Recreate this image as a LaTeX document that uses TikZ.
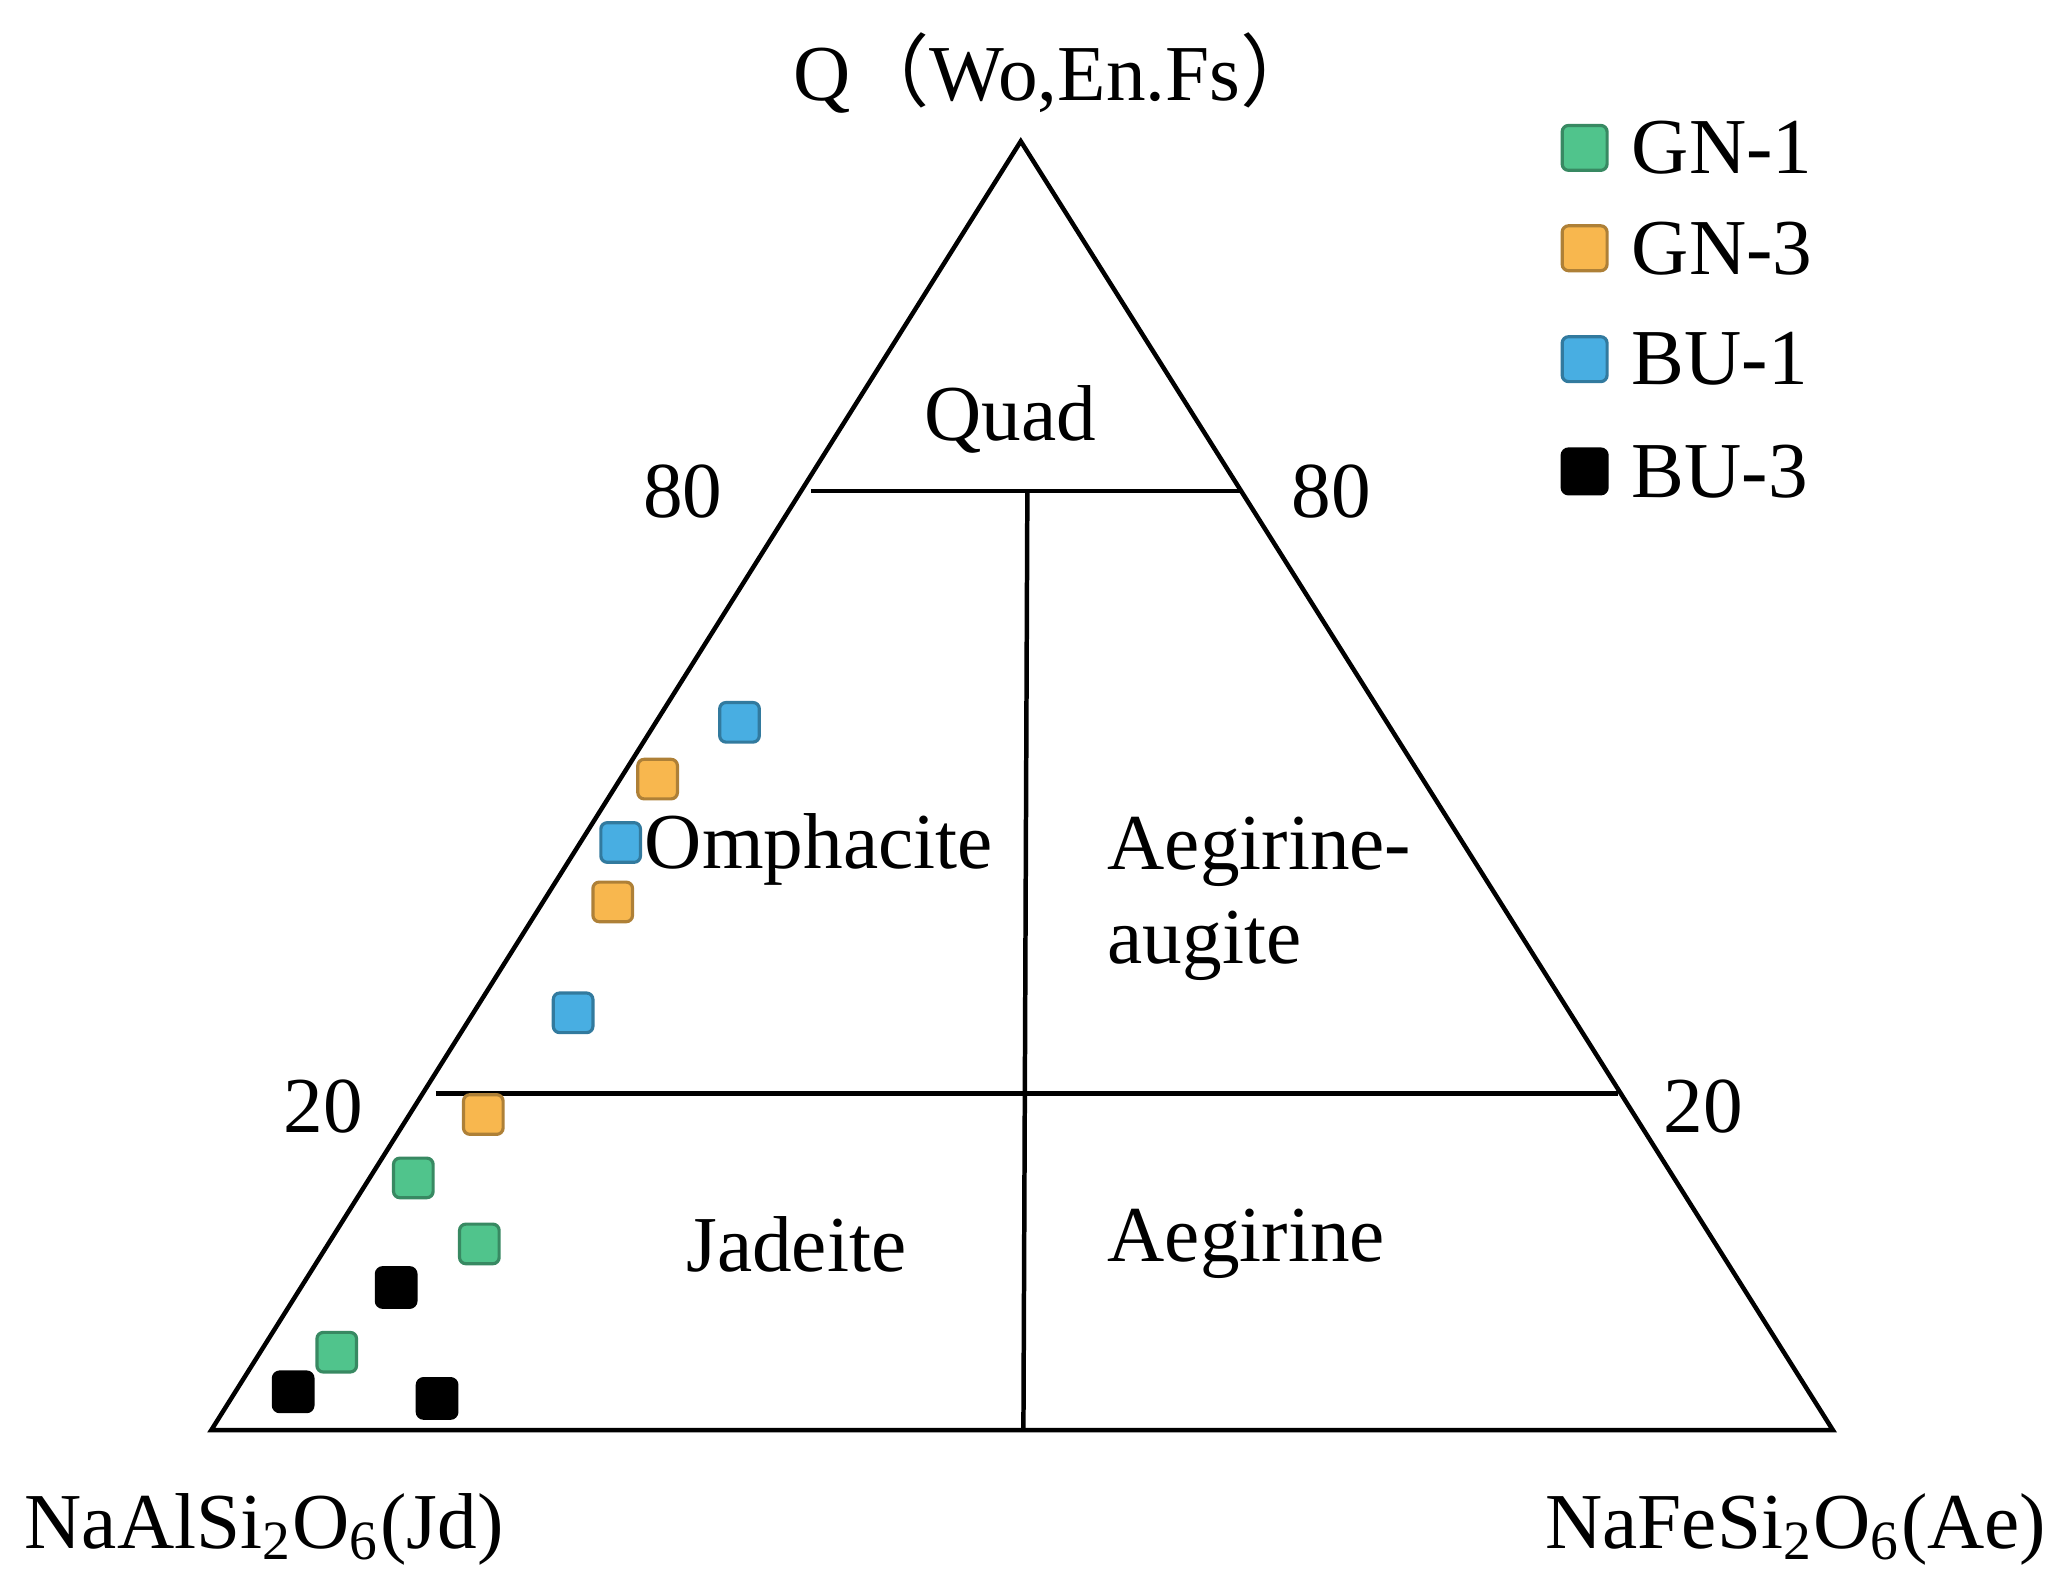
\documentclass[tikz,border=0pt]{standalone}
\usepackage{fontspec}
\setmainfont{Liberation Serif}
\newfontfamily\cjk{Noto Sans CJK SC}
\begin{document}
\begin{tikzpicture}[x=0.25pt,y=-0.25pt,
  lbl/.style={font=\fontsize{15}{18}\selectfont,inner sep=0pt},
  pt/.style={draw=#1!70!black,fill=#1,rounded corners=1.2pt,minimum size=7.5pt,inner sep=0pt,line width=0.6pt},
  ln/.style={line width=0.85pt}]
\definecolor{cg}{HTML}{50C48C}\definecolor{co}{HTML}{F8B74E}
\definecolor{cb}{HTML}{48AEE2}\definecolor{ck}{HTML}{000000}
\useasboundingbox (0,0) rectangle (1560,1207);
\coordinate (A) at (773,107); \coordinate (L) at (160,1083); \coordinate (R) at (1388,1083);
\draw[ln,line join=miter] (A)--(L)--(R)--cycle;
\coordinate (a1) at (614,372); \coordinate (a2) at (940,372);
\coordinate (v1) at (778,372); \coordinate (v2) at (775,1083);
\coordinate (b1) at (330,828); \coordinate (b2) at (1225,828);
\draw[ln] (a1)--(a2); \draw[ln] (v1)--(v2); \draw[ln] (b1)--(b2);
\node[lbl] (q) at (800,55) {Q{\cjk （}Wo,En.Fs{\cjk ）}};
\node[lbl] (quad) at (765,318) {Quad};
\node[lbl] (l80) at (517,372) {80}; \node[lbl] (r80) at (1008,372) {80};
\node[lbl] (l20) at (245,838) {20}; \node[lbl] (r20) at (1290,838) {20};
\node[lbl] (om) at (620,643) {Omphacite};
\node[lbl,anchor=west] (ae1) at (838,645) {Aegirine-};
\node[lbl,anchor=west] (ae2) at (838,716) {augite};
\node[lbl] (jd) at (603,942) {Jadeite};
\node[lbl,anchor=west] (aeg) at (838,942) {Aegirine};
\node[lbl] (njd) at (200,1158) {NaAlSi\textsubscript{2}O\textsubscript{6}(Jd)};
\node[lbl] (nae) at (1360,1158) {NaFeSi\textsubscript{2}O\textsubscript{6}(Ae)};
\foreach \c/\t/\y [count=\i] in {cg/GN-1/112,co/GN-3/188,cb/BU-1/272,ck/BU-3/357}{
  \node[pt=\c,minimum size=8.5pt] (k\i) at (1200,\y) {};
  \node[lbl,anchor=west] (t\i) at (1235,\y) {\t};}
\foreach \x/\y [count=\i] in {560/547,470/638,434/767}{\node[pt=cb] (pb\i) at (\x,\y) {};}
\foreach \x/\y [count=\i] in {498/590,464/683,366/844}{\node[pt=co] (po\i) at (\x,\y) {};}
\foreach \x/\y [count=\i] in {313/892,363/942,255/1024}{\node[pt=cg] (pg\i) at (\x,\y) {};}
\foreach \x/\y [count=\i] in {300/975,222/1054,331/1059}{\node[pt=ck] (pk\i) at (\x,\y) {};}
\end{tikzpicture}
\end{document}
